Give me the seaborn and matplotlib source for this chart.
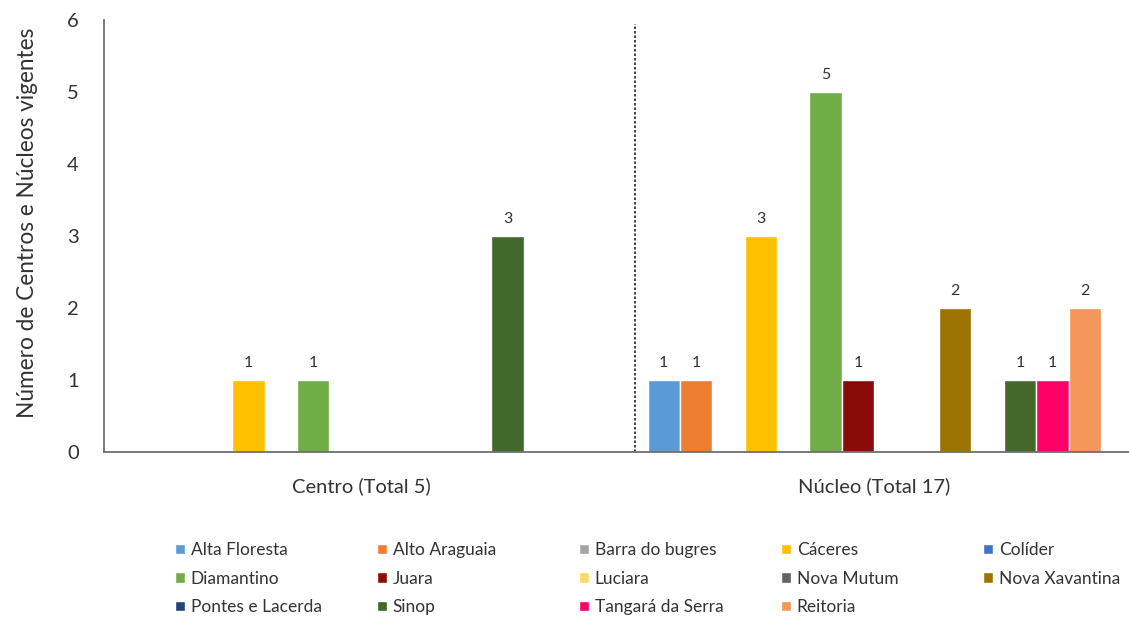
import pandas as pd
import seaborn as sns
import matplotlib.pyplot as plt

# dados
categorias = ["Centro (Total 5)", "Núcleo (Total 17)"]
campi = ["Alta Floresta", "Alto Araguaia", "Barra do bugres", "Cáceres", "Colíder",
         "Diamantino", "Juara", "Luciara", "Nova Mutum", "Nova Xavantina",
         "Pontes e Lacerda", "Sinop", "Tangará da Serra", "Reitoria"]
centro = [0, 0, 0, 1, 0, 1, 0, 0, 0, 0, 0, 3, 0, 0]
nucleo = [1, 1, 0, 3, 0, 5, 1, 0, 0, 2, 0, 1, 1, 2]
cores = ["#5B9BD5", "#ED7D31", "#A5A5A5", "#FFC000", "#4472C4",
         "#70AD47", "#8B0A0A", "#FFD966", "#636363", "#9C7300",
         "#264478", "#43682B", "#FF0066", "#F4965A"]

df = pd.DataFrame({
    "tipo": [categorias[0]] * len(campi) + [categorias[1]] * len(campi),
    "campus": campi * 2,
    "n": centro + nucleo,
})

sns.set_style("white")
plt.rcParams["font.family"] = ["Lato", "DejaVu Sans"]

W, H = 1129, 625
fig = plt.figure(figsize=(W / 100, H / 100), dpi=100)
ax = fig.add_axes([104 / W, 173 / H, (W - 104) / W, 432 / H])

sns.barplot(data=df, x="tipo", y="n", hue="campus", hue_order=campi,
            palette=cores, saturation=1, width=0.885, gap=0,
            errorbar=None, legend=True, ax=ax)

# rotulos de valor (so onde ha barra)
for cont in ax.containers:
    rot = [f"{v:g}" if v > 0 else "" for v in cont.datavalues]
    ax.bar_label(cont, labels=rot, padding=7, fontsize=11.5, color="#333333")

ax.set_xlim(-0.503, 1.497)
ax.set_ylim(0, 6)
ax.set_yticks(range(7))
ax.set_xlabel("")
ax.set_ylabel("")
ax.tick_params(axis="y", length=0, pad=18, labelsize=14.5, labelcolor="#333333")
ax.tick_params(axis="x", length=0, pad=18, labelsize=14.5, labelcolor="#333333")
for s in ["top", "right"]:
    ax.spines[s].set_visible(False)
for s in ["left", "bottom"]:
    ax.spines[s].set_color("#6e6e6e")
    ax.spines[s].set_linewidth(1.3)

# linha separando centro e nucleo
ax.plot([0.534, 0.534], [0, 5.95], color="#222222", lw=1.2,
        linestyle=(0, (1.5, 1.2)), clip_on=False)

fig.text(28 / W, 1 - 223 / H, "Número de Centros e Núcleos vigentes",
         rotation=90, ha="center", va="center", fontsize=16.3, color="#333333")

# legenda em 5 colunas de largura fixa, ordem por linha
handles, labels = ax.get_legend_handles_labels()
ax.get_legend().remove()
for c in range(5):
    idx = [r * 5 + c for r in range(3) if r * 5 + c < len(labels)]
    fig.legend([handles[i] for i in idx], [labels[i] for i in idx],
               loc="upper left", bbox_to_anchor=((175 + 202 * c) / W, 1 - 542 / H),
               frameon=False, fontsize=12.5, handlelength=0.55, handleheight=0.55,
               handletextpad=0.35, labelspacing=0.72, borderpad=0, borderaxespad=0,
               labelcolor="#333333")

fig.savefig("out.png", dpi=100)
